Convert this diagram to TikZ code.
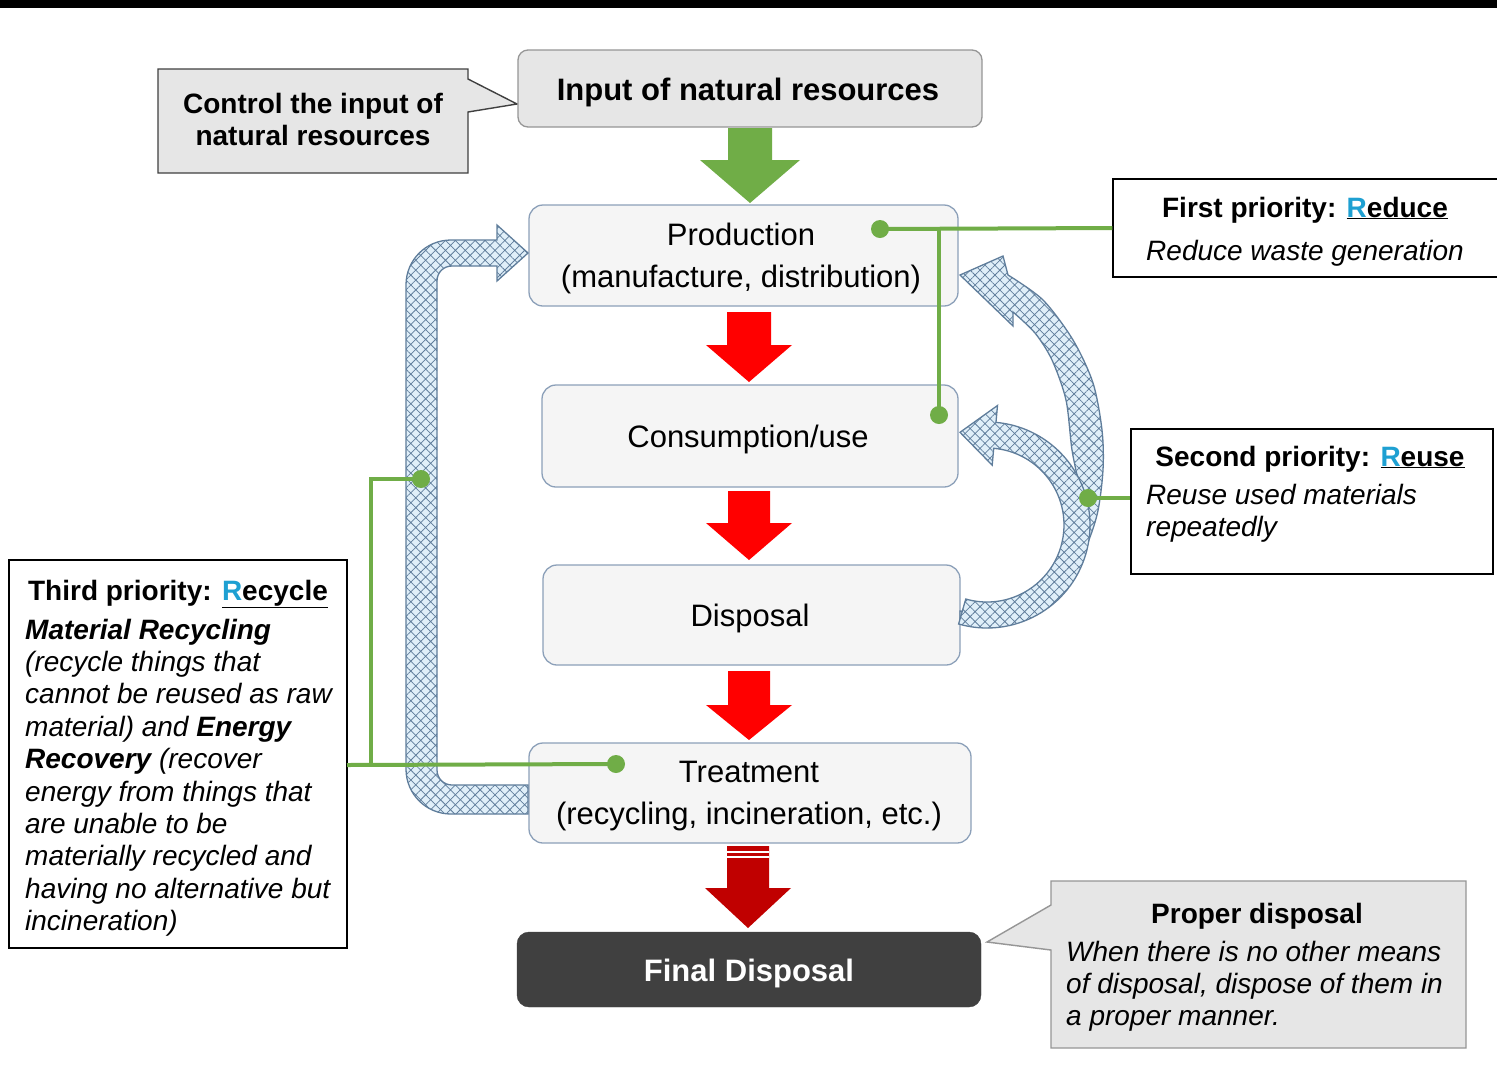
\documentclass[tikz,border=0pt]{standalone}
\usepackage{fontspec}
\setmainfont{Liberation Sans}
\usepackage{array}
\usetikzlibrary{patterns.meta}
\definecolor{grn}{RGB}{112,173,71}
\definecolor{redA}{RGB}{255,0,0}
\definecolor{redB}{RGB}{192,0,0}
\definecolor{darkbox}{RGB}{64,64,64}
\definecolor{hfill}{RGB}{224,239,249}
\definecolor{hline}{RGB}{95,125,155}
\definecolor{hborder}{RGB}{95,125,155}
\definecolor{pborder}{RGB}{140,160,185}
\definecolor{pfill}{RGB}{245,245,245}
\definecolor{callfill}{RGB}{230,230,230}
\definecolor{callborder}{RGB}{150,150,150}
\definecolor{keyR}{RGB}{30,160,210}
\newcommand\fontMain{\fontsize{31}{42}\selectfont}
\newcommand\fontNote{\fontsize{28}{32.4}\selectfont}
\newcommand\bdown[7]{% x, shaft half, head half, ytop, yhead, ytip, colour
  \fill[#7] (#1-#2,#4) -- (#1+#2,#4) -- (#1+#2,#5) -- (#1+#3,#5) -- (#1,#6) -- (#1-#3,#5) -- (#1-#2,#5) -- cycle;}
\begin{document}
\begin{tikzpicture}[x=1pt,y=-1pt,
  procbox/.style={draw=pborder, line width=1.3pt, rounded corners=14pt, fill=pfill, inner sep=0pt},
  inbox/.style={draw=callborder, line width=1.3pt, rounded corners=10pt, fill=callfill, inner sep=0pt},
  finalbox/.style={fill=darkbox, draw=darkbox, rounded corners=12pt, inner sep=0pt},
  notebox/.style={draw=black, line width=1.4pt, fill=white, inner sep=0pt},
  callA/.style={draw=black!75, line width=1.4pt, fill=callfill},
  callB/.style={draw=callborder, line width=1.4pt, fill=callfill},
  txt/.style={inner sep=0pt, anchor=base},
  hatcharrow/.style={draw=hborder, line width=1.3pt, preaction={fill=hfill},
     pattern={Hatch[angle=45,distance=7pt,line width=0.75pt]}, pattern color=hline},
  gline/.style={draw=grn, line width=4pt},
  gdot/.style={fill=grn}]
\clip (0,0) rectangle (1497,1072);
\fill[white] (0,0) rectangle (1497,1072);
\fill[black] (0,0) rectangle (1497,8);

% ---------- callouts ----------
\draw[callA] (158,69) -- (468,69) -- (468,79) -- (517,104) -- (468,112) -- (468,173) -- (158,173) -- cycle;
\draw[callB] (1051,881) -- (1466,881) -- (1466,1048) -- (1051,1048) -- (1051,950) -- (987,942) -- (1051,905) -- cycle;

% ---------- boxes ----------
\node[inbox, minimum width=464pt, minimum height=77pt] (input) at (750,88.5) {};
\node[procbox, minimum width=429pt, minimum height=101pt] (prod) at (743.5,255.5) {};
\node[procbox, minimum width=416pt, minimum height=102pt] (cons) at (750,436) {};
\node[procbox, minimum width=417pt, minimum height=100pt] (disp) at (751.5,615) {};
\node[procbox, minimum width=442pt, minimum height=100pt] (treat) at (750,793) {};
\node[finalbox, minimum width=464pt, minimum height=75pt] (final) at (749,969.5) {};
\node[notebox, minimum width=397pt, minimum height=98pt] (first) at (1311.5,228) {};
\node[notebox, minimum width=362pt, minimum height=145pt] (second) at (1312,501.5) {};
\node[notebox, minimum width=338pt, minimum height=388pt] (third) at (178,754) {};

% ---------- block arrows ----------
\bdown{750}{22}{50}{128}{160}{203}{grn}
\bdown{749}{22}{43}{312}{345}{382}{redA}
\bdown{749}{21}{43}{491}{523}{560}{redA}
\bdown{749}{21}{43}{671}{705}{740}{redA}
\bdown{748}{21}{43}{846}{888}{928}{redB}
\draw[white, line width=1.5pt] (727,852) -- (769,852) (727,857) -- (769,857);

% ---------- hatched arrows ----------
\path[hatcharrow] (528,814) -- (451,814) .. controls (426,814) and (406,794) .. (406,769)
  -- (406,285) .. controls (406,260) and (426,240) .. (451,240) -- (497,240) -- (497,225)
  -- (528,253) -- (497,281) -- (497,266) -- (452,266) .. controls (443.7,266) and (437,272.3) .. (437,281)
  -- (437,770) .. controls (437,778.3) and (443.7,785) .. (452,785) -- (528,785) -- cycle;

\path[hatcharrow] (960,623) -- plot[smooth] coordinates {(960,623) (1015,615) (1055,590) (1082,555) (1097,515) (1103,470) (1102,430) (1093,383) (1073,340) (1043,300) (1008,275)}
  -- (1003,256) -- (960,275) -- (1013,326) -- (1013,312)
  -- plot[smooth] coordinates {(1013,312) (1035,333) (1052,360) (1066,400) (1072,450) (1080,490) (1085,525) (1072,568) (1035,602) (990,612) (960,611)} -- cycle;

\path[hatcharrow] (958.6,624) arc[start angle=106, end angle=-85, radius=103]
  -- (997.5,405.5) -- (960,432.3) -- (992.2,465.2) -- (993.7,448.3)
  arc[start angle=-85, end angle=106, radius=77] -- cycle;

% ---------- texts ----------
\node[txt, font=\fontMain\bfseries] (inputT) at (748,100) {Input of natural resources};
\node[txt, font=\fontNote\bfseries] (ctrlT) at (313,113) {\begin{tabular}[t]{@{}c@{}}Control the input of\\natural resources\end{tabular}};
\node[txt, font=\fontMain] (prodT) at (741,245) {\begin{tabular}[t]{@{}c@{}}Production\\(manufacture, distribution)\end{tabular}};
\node[txt, font=\fontMain] (consT) at (748,447) {Consumption/use};
\node[txt, font=\fontMain] (dispT) at (750,626) {Disposal};
\node[txt, font=\fontMain] (treatT) at (749,782) {\begin{tabular}[t]{@{}c@{}}Treatment\\(recycling, incineration, etc.)\end{tabular}};
\node[txt, font=\fontMain\bfseries, text=white] (finalT) at (749,981) {Final Disposal};

\node[txt, font=\fontNote\bfseries] (firstT) at (1305,217) {First priority: \underline{\textcolor{keyR}{R}educe}};
\node[txt, font=\fontNote\itshape] (firstB) at (1305,260) {Reduce waste generation};
\node[txt, font=\fontNote\bfseries] (secondT) at (1310,466) {Second priority: \underline{\textcolor{keyR}{R}euse}};
\node[txt, font=\fontNote\itshape, anchor=base west] (secondB) at (1146,504) {\begin{tabular}[t]{@{}>{\itshape}l@{}}Reuse used materials\\repeatedly\end{tabular}};
\node[txt, font=\fontNote\bfseries] (thirdT) at (178,600) {Third priority: \underline{\textcolor{keyR}{R}ecycle}};
\node[txt, font=\fontNote\itshape, anchor=base west] (thirdB) at (25,639) {\begin{tabular}[t]{@{}>{\itshape}l@{}}
{\bfseries Material Recycling}\\
(recycle things that\\
cannot be reused as raw\\
material) and {\bfseries Energy}\\
{\bfseries Recovery} (recover\\
energy from things that\\
are unable to be\\
materially recycled and\\
having no alternative but\\
incineration)\end{tabular}};
\node[txt, font=\fontNote\bfseries] (properT) at (1257,923) {Proper disposal};
\node[txt, font=\fontNote\itshape, anchor=base west] (properB) at (1066,961) {\begin{tabular}[t]{@{}>{\itshape}l@{}}When there is no other means\\of disposal, dispose of them in\\a proper manner.\end{tabular}};

% ---------- green connectors ----------
\coordinate (dotP) at (880,229);
\coordinate (dotC) at (939,415);
\coordinate (dotR) at (1088,498);
\coordinate (dotT) at (616,764);
\coordinate (dotL) at (421,479);
\coordinate (rcL) at (347,765);
\coordinate (rcK) at (371,765);
\draw[gline] (dotP) -- (first.west);
\draw[gline] (dotC) |- (dotP);
\draw[gline] (dotR) -- (second.west |- dotR);
\draw[gline] (rcL) -- (dotT);
\draw[gline] (rcK) |- (dotL);
\foreach \d in {dotP,dotC,dotR,dotT,dotL} \fill[gdot] (\d) circle[radius=9];
\end{tikzpicture}
\end{document}
